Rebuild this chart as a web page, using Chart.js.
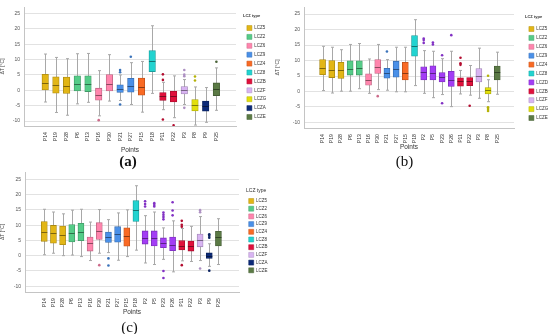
<!DOCTYPE html>
<html>
<head>
<meta charset="utf-8">
<title>ΔT by point and LCZ type</title>
<script src="https://cdn.jsdelivr.net/npm/chart.js@4.4.1/dist/chart.umd.min.js"></script>
<style>
  html, body { margin: 0; padding: 0; background: #fff; overflow: hidden; }
  canvas { position: absolute; }
</style>
</head>
<body>
<canvas id="chart-a" width="275" height="170" style="left:0;top:0"></canvas>
<canvas id="chart-b" width="275" height="170" style="left:275px;top:0"></canvas>
<canvas id="chart-c" width="275" height="171" style="left:0;top:165px"></canvas>
<script>
// Values (whisker low, Q1, median, Q3, whisker high, outliers).
const yTicks = [-10, -5, 0, 5, 10, 15, 20, 25];

const zoneColors = {
	LCZ5: '#e2b616', LCZ2: '#55cc88', LCZ6: '#ff85ad', LCZ9: '#4a90e8',
	LCZ4: '#f96a24', LCZ8: '#22d3d0', LCZD: '#a33df5', LCZB: '#e0103c',
	LCZF: '#d8b4f2', LCZG: '#e2df0a', LCZA: '#0c2a78', LCZE: '#5b7a45'
};

// (a)
const aPoints = ['P14','P19','P28','P6','P13','P16','P30','P21','P27','P15','P18','P11','P22','P3','P8','P9','P25'];
const aZones = ['LCZ5','LCZ5','LCZ5','LCZ2','LCZ2','LCZ6','LCZ6','LCZ9','LCZ9','LCZ4','LCZ8','LCZB','LCZB','LCZF','LCZG','LCZA','LCZE'];
const aMin = [-3.8, -7.2, -8.1, -4.4, -3.9, -8.3, -3.5, -3.3, -4.6, -7.1, -1.0, -6.3, -8.9, -4.6, -11.3, -10.4, -6.5];
const aQ1 = [0.1, -0.9, -1.0, -0.2, -0.4, -3.2, -0.2, -0.7, -0.6, -1.6, 6.1, -3.3, -3.8, -1.2, -6.7, -6.8, -1.7];
const aMed = [2.3, 1.8, 1.3, 2.0, 2.2, -1.5, 2.1, 0.5, 1.5, 1.0, 9.4, -1.7, -2.0, 0.1, -4.7, -5.2, 0.4];
const aQ3 = [5.2, 4.4, 4.3, 4.7, 4.7, 0.7, 5.1, 1.8, 3.9, 4.0, 12.9, -0.7, -0.3, 1.2, -3.0, -3.5, 2.4];
const aMax = [11.8, 10.7, 10.3, 11.9, 12.0, 6.4, 11.6, 5.0, 9.0, 9.4, 21.0, 2.6, 4.7, 3.5, 1.1, 0.9, 7.3];
const aOut = [[], [], [], [], [], [-9.7], [], [6.6, 5.9, -4.6], [10.9], [], [], [5.2, 3.4, -9.5], [-11.4], [6.6, 5.1, 4.6, -5.7], [4.5, 3.2], [], [9.3]];
const aLegend = ['LCZ5','LCZ2','LCZ6','LCZ9','LCZ4','LCZ8','LCZB','LCZF','LCZG','LCZA','LCZE'];

// (b)
const bPoints = ['P14','P19','P28','P6','P13','P16','P30','P21','P27','P15','P18','P2','P5','P23','P26','P11','P22','P3','P8','P25'];
const bZones = ['LCZ5','LCZ5','LCZ5','LCZ2','LCZ2','LCZ6','LCZ6','LCZ9','LCZ9','LCZ4','LCZ8','LCZD','LCZD','LCZD','LCZD','LCZB','LCZB','LCZF','LCZG','LCZE'];
const bMin = [0.3, -0.5, 0.1, 0.1, 0.9, -0.6, 0.6, 0.4, -0.1, -0.1, 1.9, -0.6, -2.0, -1.0, -4.9, -0.8, -1.2, -2.2, -3.3, -0.9];
const bQ1 = [5.4, 4.5, 4.2, 5.3, 5.3, 2.0, 5.8, 4.3, 4.6, 3.7, 11.4, 3.7, 3.7, 3.1, 1.6, 1.7, 1.9, 3.1, -0.8, 3.7];
const bMed = [7.5, 7.0, 6.8, 7.2, 7.5, 3.8, 7.8, 6.0, 7.3, 6.1, 14.7, 6.2, 6.1, 4.6, 3.7, 3.3, 3.3, 4.9, 0.4, 6.2];
const bQ3 = [10.3, 10.0, 9.4, 9.9, 9.9, 5.7, 10.3, 7.5, 9.8, 9.4, 18.1, 8.0, 8.3, 6.1, 6.5, 4.4, 4.5, 7.4, 1.3, 8.2];
const bMax = [14.6, 14.3, 13.5, 15.2, 15.5, 10.5, 15.2, 10.3, 14.3, 14.3, 23.2, 13.2, 13.0, 10.6, 13.0, 6.8, 8.4, 14.0, 3.8, 12.7];
const bOut = [[], [], [], [], [], [], [-1.5], [12.9], [], [], [], [17.1, 16.6, 15.7], [15.8, 15.2], [11.7, -3.8], [18.2], [10.9, 9.1, 8.6], [-4.6], [], [5.1, -5.1, -5.7, -6.3], []];
const bLegend = ['LCZ5','LCZ2','LCZ6','LCZ9','LCZ4','LCZ8','LCZD','LCZB','LCZF','LCZG','LCZE'];

// (c)
const cPoints = ['P14','P19','P28','P6','P13','P16','P30','P21','P27','P15','P18','P2','P5','P23','P26','P11','P22','P3','P9','P25'];
const cZones = ['LCZ5','LCZ5','LCZ5','LCZ2','LCZ2','LCZ6','LCZ6','LCZ9','LCZ9','LCZ4','LCZ8','LCZD','LCZD','LCZD','LCZD','LCZB','LCZB','LCZF','LCZA','LCZE'];
const cMin = [0.3, 0.8, 0.0, 0.2, -0.3, -1.6, 0.8, 1.0, -1.5, -0.3, 1.8, -2.4, -2.9, -1.2, -5.3, -1.7, -1.9, -1.6, -3.5, -2.9];
const cQ1 = [4.7, 4.1, 3.6, 4.5, 4.9, 1.5, 5.3, 4.3, 4.4, 3.1, 11.2, 3.8, 3.2, 2.6, 1.6, 1.9, 1.5, 2.9, -0.9, 3.2];
const cMed = [7.7, 7.3, 6.8, 7.4, 7.9, 4.0, 8.2, 6.0, 7.0, 6.5, 14.9, 5.8, 5.7, 4.3, 3.4, 3.2, 3.2, 5.0, 0.0, 6.0];
const cQ3 = [11.2, 9.9, 9.7, 10.2, 10.6, 6.1, 10.8, 7.7, 9.5, 9.1, 18.0, 8.1, 8.1, 5.8, 6.1, 4.9, 4.8, 7.1, 0.9, 8.0];
const cMax = [15.2, 14.3, 13.7, 14.9, 15.2, 11.0, 15.1, 11.8, 14.0, 15.0, 22.9, 13.1, 14.3, 9.1, 11.4, 8.9, 9.6, 12.8, 3.9, 12.1];
const cOut = [[], [], [], [], [], [], [-3.1], [-0.9, -3.2], [], [], [], [17.8, 16.9, 16.1], [17.2, 16.6, 16.1], [14.1, 13.4, 12.7, 11.9, -5.0, -7.3], [17.5, 14.8, 13.2], [11.4, 10.1, 9.5, -3.1], [], [14.9, 14.2, -4.2], [7.0, 6.5, 5.9, -4.9], []];
const cLegend = ['LCZ5','LCZ2','LCZ6','LCZ9','LCZ4','LCZ8','LCZB','LCZF','LCZA','LCZE'];

Chart.defaults.font.family = "'Liberation Sans', Arial, sans-serif";
Chart.defaults.animation = false;

function shade(hex, f) {
	const n = parseInt(hex.slice(1), 16);
	const r = Math.round(((n >> 16) & 255) * f);
	const g = Math.round(((n >> 8) & 255) * f);
	const b = Math.round((n & 255) * f);
	return 'rgb(' + r + ',' + g + ',' + b + ')';
}

// Whiskers behind the boxes, medians on top of them.
function boxParts(d) {
	return {
		id: 'boxParts',
		beforeDatasetsDraw(chart) {
			const {ctx, scales: {x, y}} = chart;
			ctx.save();
			ctx.strokeStyle = '#a8a8a8';
			ctx.lineWidth = 1;
			d.points.forEach((_, i) => {
				const cx = Math.round(x.getPixelForValue(i)) + 0.5;
				const lo = y.getPixelForValue(d.min[i]);
				const hi = y.getPixelForValue(d.max[i]);
				ctx.beginPath();
				ctx.moveTo(cx, lo); ctx.lineTo(cx, hi);
				ctx.moveTo(cx - 1.5, lo); ctx.lineTo(cx + 1.5, lo);
				ctx.moveTo(cx - 1.5, hi); ctx.lineTo(cx + 1.5, hi);
				ctx.stroke();
			});
			ctx.restore();
		},
		afterDatasetsDraw(chart) {
			const {ctx, scales: {x, y}} = chart;
			const half = d.barW / 2;
			ctx.save();
			ctx.lineWidth = 1;
			d.points.forEach((_, i) => {
				const cx = x.getPixelForValue(i);
				const my = Math.round(y.getPixelForValue(d.med[i])) + 0.5;
				ctx.strokeStyle = shade(zoneColors[d.zones[i]], 0.55);
				ctx.beginPath();
				ctx.moveTo(cx - half, my); ctx.lineTo(cx + half, my);
				ctx.stroke();
			});
			ctx.restore();
		}
	};
}

// Chart.js always docks the legend onto the plot; move it right a little.
const legendShift = {
	id: 'legendShift',
	afterLayout(chart, args, opts) {
		const lg = chart.legend;
		if (lg && opts.left) {
			lg.left = opts.left;
			lg.right = chart.width;
		}
	}
};

function buildPanel(id, d, look) {
	const canvas = document.getElementById(id);
	const boxes = d.points.map((_, i) => ({x: i, y: [d.q1[i], d.q3[i]]}));
	const outPts = [];
	const outColors = [];
	d.out.forEach((vals, i) => {
		vals.forEach(v => {
			outPts.push({x: i, y: v});
			outColors.push(shade(zoneColors[d.zones[i]], 0.8));
		});
	});

	new Chart(canvas, {
		type: 'bar',
		data: {
			datasets: [
				{
					label: 'box',
					data: boxes,
					backgroundColor: d.zones.map(z => zoneColors[z]),
					borderColor: d.zones.map(z => shade(zoneColors[z], 0.75)),
					borderWidth: 0.8,
					borderSkipped: false,
					barThickness: d.barW
				},
				{
					type: 'scatter',
					label: 'outliers',
					data: outPts,
					backgroundColor: outColors,
					borderWidth: 0,
					pointRadius: 1.3
				}
			]
		},
		plugins: [boxParts(d), legendShift],
		options: {
			responsive: false,
			events: [],
			layout: {
				padding: {top: look.top, right: canvas.width - look.areaRight - 20, left: 0, bottom: 0}
			},
			plugins: {
				tooltip: {enabled: false},
				legendShift: {left: look.legendLeft},
				legend: {
					position: 'right',
					align: 'start',
					maxWidth: 20,
					title: {
						display: true,
						text: 'LCZ type',
						position: 'start',
						color: '#333',
						font: {size: look.legTitleSize, weight: look.legTitleWeight},
						padding: {top: look.legTitleTop, bottom: look.legTitleBottom}
					},
					labels: {
						boxWidth: 5,
						boxHeight: 5,
						padding: look.legPad,
						color: '#444',
						font: {size: 4.5},
						generateLabels: () => d.legend.map(z => ({
							text: z,
							fillStyle: zoneColors[z],
							strokeStyle: shade(zoneColors[z], 0.8),
							lineWidth: 0.5,
							hidden: false
						}))
					}
				},
				title: {
					display: true,
					position: 'bottom',
					text: look.panel,
					color: '#111',
					font: {family: "'Liberation Serif', 'DejaVu Serif', serif", size: 15, weight: look.panelWeight, lineHeight: 1},
					padding: 0
				}
			},
			scales: {
				x: {
					type: 'linear',
					min: -look.padL,
					max: d.points.length - 1 + look.padR,
					grid: {display: false, drawTicks: false},
					border: {color: '#c4c4c4'},
					afterBuildTicks: s => { s.ticks = d.points.map((_, i) => ({value: i})); },
					afterFit: s => { s.height = look.xHeight; },
					ticks: {
						autoSkip: false,
						minRotation: 90,
						maxRotation: 90,
						padding: 6,
						color: '#333',
						font: {size: 5.2},
						callback: v => d.points[v] || ''
					},
					title: {
						display: true,
						text: 'Points',
						color: '#333',
						font: {size: 6.5},
						padding: {top: 0, bottom: look.pointsPad}
					}
				},
				y: {
					min: d.yMin,
					max: d.yMax,
					grid: {color: '#e2e2e2', drawTicks: false},
					border: {color: '#c4c4c4'},
					afterBuildTicks: s => { s.ticks = yTicks.map(v => ({value: v})); },
					afterFit: s => { s.width = look.yWidth; },
					ticks: {
						padding: 4,
						color: '#555',
						font: {size: 5}
					},
					title: {
						display: true,
						text: 'ΔT [°C]',
						color: '#444',
						font: {size: 5},
						padding: 0
					}
				}
			}
		}
	});
}

buildPanel('chart-a',
	{points: aPoints, zones: aZones, min: aMin, q1: aQ1, med: aMed, q3: aQ3, max: aMax, out: aOut, legend: aLegend, yMin: -11.6, yMax: 27.1, barW: 6.5},
	{panel: '(a)', panelWeight: 'bold', top: 5, areaRight: 236, xHeight: 29, yWidth: 24, padL: 1.4, padR: 1.25, pointsPad: 1.1,
	 legendLeft: 243, legTitleSize: 4, legTitleWeight: 'bold', legTitleTop: 9, legTitleBottom: 2.8, legPad: 3.9});

buildPanel('chart-b',
	{points: bPoints, zones: bZones, min: bMin, q1: bQ1, med: bMed, q3: bQ3, max: bMax, out: bOut, legend: bLegend, yMin: -11.8, yMax: 27.3, barW: 6},
	{panel: '(b)', panelWeight: 'normal', top: 6, areaRight: 239, xHeight: 27, yWidth: 29, padL: 1.45, padR: 1.25, pointsPad: 4.1,
	 legendLeft: 250, legTitleSize: 4, legTitleWeight: 'bold', legTitleTop: 9, legTitleBottom: 2.8, legPad: 3.9});

buildPanel('chart-c',
	{points: cPoints, zones: cZones, min: cMin, q1: cQ1, med: cMed, q3: cQ3, max: cMax, out: cOut, legend: cLegend, yMin: -11.9, yMax: 27.4, barW: 6},
	{panel: '(c)', panelWeight: 'normal', top: 2, areaRight: 239, xHeight: 29, yWidth: 25, padL: 1.52, padR: 1.66, pointsPad: 5.1,
	 legendLeft: 246, legTitleSize: 5, legTitleWeight: 'normal', legTitleTop: 21.5, legTitleBottom: 1.3, legPad: 2.7});
</script>
</body>
</html>
